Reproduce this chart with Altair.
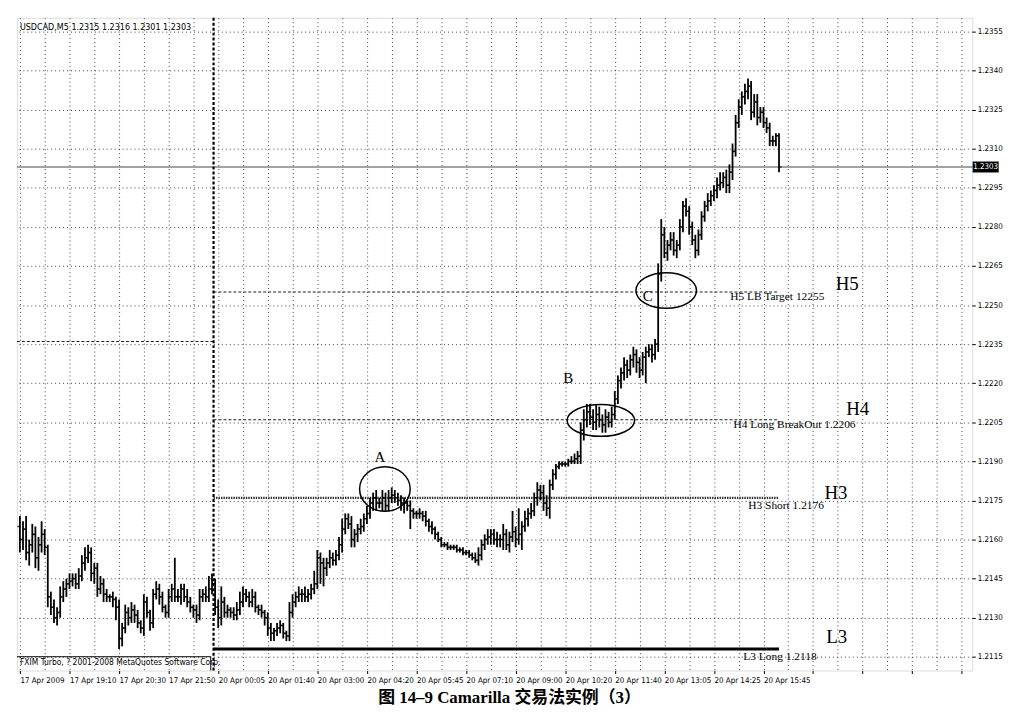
import altair as alt
import pandas as pd

# ---------------- data ----------------
closes = [
    1.2160, 1.2164, 1.2155, 1.2158, 1.2162, 1.2153, 1.2158, 1.2162, 1.2157, 1.2138,
    1.2134, 1.2130, 1.2132, 1.2138, 1.2141, 1.2143, 1.2144, 1.2145, 1.2143, 1.2146,
    1.2151, 1.2153, 1.2155, 1.2147, 1.2149, 1.2141, 1.2143, 1.2139, 1.2138, 1.2138,
    1.2137, 1.2134, 1.2122, 1.2126, 1.2132, 1.2130, 1.2133, 1.2131, 1.2128, 1.2126,
    1.2136, 1.2132, 1.2128, 1.2139, 1.2141, 1.2138, 1.2134, 1.2132, 1.2138, 1.2141,
    1.2138, 1.2138, 1.2141, 1.2138, 1.2136, 1.2134, 1.2133, 1.2131, 1.2138, 1.2139,
    1.2138, 1.2141, 1.2143, 1.2134, 1.2130, 1.2136, 1.2132, 1.2133, 1.2132, 1.2131,
    1.2133, 1.2136, 1.2139, 1.2138, 1.2136, 1.2138, 1.2134, 1.2133, 1.2132, 1.2130,
    1.2126, 1.2124, 1.2125, 1.2126, 1.2127, 1.2124, 1.2123, 1.2132, 1.2136, 1.2138,
    1.2139, 1.2139, 1.2138, 1.2139, 1.2141, 1.2143, 1.2153, 1.2151, 1.2149, 1.2151,
    1.2153, 1.2152, 1.2154, 1.2158, 1.2164, 1.2168, 1.2166, 1.2160, 1.2162, 1.2164,
    1.2165, 1.2168, 1.2170, 1.2174, 1.2176, 1.2174, 1.2174, 1.2176, 1.2173, 1.2176,
    1.2177, 1.2176, 1.2175, 1.2174, 1.2174, 1.2173, 1.2171, 1.2170, 1.2170, 1.2170,
    1.2169, 1.2167, 1.2165, 1.2164, 1.2162, 1.2160, 1.2158, 1.2158, 1.2157, 1.2157,
    1.2157, 1.2156, 1.2156, 1.2155, 1.2155, 1.2154, 1.2153, 1.2152, 1.2154, 1.2158,
    1.2160, 1.2161, 1.2162, 1.2160, 1.2160, 1.2160, 1.2162, 1.2158, 1.2161, 1.2163,
    1.2160, 1.2162, 1.2165, 1.2168, 1.2170, 1.2171, 1.2176, 1.2179, 1.2178, 1.2174,
    1.2172, 1.2181, 1.2185, 1.2188, 1.2189, 1.2189, 1.2189, 1.2190, 1.2190, 1.2191,
    1.2192, 1.2202, 1.2206, 1.2209, 1.2207, 1.2205, 1.2208, 1.2206, 1.2204, 1.2207,
    1.2205, 1.2208, 1.2214, 1.2221, 1.2224, 1.2227, 1.2225, 1.2229, 1.2231, 1.2228,
    1.2225, 1.2230, 1.2232, 1.2233, 1.2231, 1.2235, 1.2262, 1.2277, 1.2270, 1.2273,
    1.2275, 1.2271, 1.2273, 1.2280, 1.2288, 1.2286, 1.2280, 1.2275, 1.2271, 1.2277,
    1.2284, 1.2288, 1.2290, 1.2292, 1.2294, 1.2296, 1.2297, 1.2299, 1.2296, 1.2301,
    1.2309, 1.2320, 1.2326, 1.2330, 1.2332, 1.2334, 1.2324, 1.2328, 1.2322, 1.2324,
    1.2320, 1.2318, 1.2313, 1.2313, 1.2315, 1.2303,
]
first_open = 1.2165

# wicks above max(open, close) and below min(open, close), in pips
up_wick = [
    4, 3, 5, 2, 4, 3, 3, 5, 2, 1,
    2, 3, 2, 4, 3, 2, 3, 2, 2, 3,
    3, 4, 3, 2, 2, 2, 3, 2, 2, 1,
    2, 1, 3, 2, 3, 2, 3, 2, 2, 1,
    3, 2, 1, 2, 3, 2, 2, 1, 3, 2,
    12, 3, 2, 2, 3, 2, 1, 2, 3, 2,
    3, 5, 4, 2, 3, 6, 2, 2, 1, 2,
    3, 4, 3, 2, 2, 3, 2, 1, 2, 1,
    2, 2, 1, 2, 2, 1, 1, 4, 3, 2,
    3, 2, 3, 2, 2, 5, 3, 2, 2, 2,
    3, 2, 2, 3, 4, 2, 2, 3, 2, 2,
    3, 2, 3, 2, 2, 3, 2, 3, 2, 3,
    3, 2, 2, 2, 2, 1, 2, 1, 1, 2,
    1, 2, 1, 2, 1, 1, 1, 1, 1, 1,
    1, 1, 1, 1, 1, 1, 1, 2, 3, 2,
    2, 3, 2, 2, 3, 2, 4, 2, 2, 8,
    2, 10, 2, 3, 2, 3, 2, 3, 2, 3,
    3, 2, 2, 1, 1, 1, 1, 1, 2, 2,
    2, 3, 4, 3, 3, 3, 4, 3, 2, 3,
    2, 3, 3, 2, 2, 3, 2, 2, 3, 2,
    2, 2, 2, 2, 2, 2, 4, 6, 3, 2,
    3, 3, 2, 3, 2, 3, 2, 2, 2, 2,
    2, 2, 3, 2, 2, 3, 4, 2, 3, 3,
    3, 3, 3, 2, 3, 3, 2, 3, 3, 2,
    2, 2, 2, 2, 1, 1,
]
down_wick = [
    5, 4, 3, 5, 3, 4, 5, 3, 3, 4,
    3, 2, 3, 2, 2, 3, 2, 2, 2, 2,
    2, 3, 2, 3, 4, 3, 2, 3, 2, 2,
    3, 5, 4, 3, 2, 3, 2, 3, 2, 2,
    3, 2, 3, 2, 2, 3, 2, 2, 2, 2,
    2, 2, 3, 2, 2, 2, 3, 3, 2, 2,
    2, 2, 2, 3, 4, 3, 2, 2, 2, 2,
    2, 2, 2, 2, 2, 2, 2, 2, 2, 3,
    3, 3, 3, 2, 2, 2, 2, 2, 2, 2,
    2, 3, 2, 2, 2, 2, 2, 8, 7, 3,
    2, 2, 2, 2, 3, 2, 2, 3, 3, 3,
    2, 2, 2, 2, 3, 3, 2, 3, 2, 2,
    2, 2, 2, 3, 4, 2, 7, 2, 2, 2,
    2, 2, 2, 2, 2, 1, 1, 1, 1, 1,
    1, 1, 1, 1, 1, 1, 1, 1, 2, 2,
    2, 2, 3, 2, 3, 3, 4, 2, 3, 2,
    3, 2, 6, 2, 3, 2, 2, 3, 3, 3,
    3, 4, 2, 2, 1, 1, 1, 1, 1, 1,
    2, 3, 4, 3, 3, 3, 3, 3, 3, 3,
    2, 2, 2, 2, 3, 3, 3, 2, 3, 4,
    3, 2, 10, 2, 3, 2, 3, 3, 2, 3,
    2, 2, 3, 2, 2, 2, 3, 2, 3, 2,
    2, 2, 2, 2, 2, 3, 2, 2, 3, 3,
    3, 2, 2, 3, 3, 3, 3, 2, 3, 2,
    2, 2, 2, 2, 2, 2,
]

x_labels = ["17 Apr 2009", "17 Apr 19:10", "17 Apr 20:30", "17 Apr 21:50",
            "20 Apr 00:05", "20 Apr 01:40", "20 Apr 03:00", "20 Apr 04:20",
            "20 Apr 05:45", "20 Apr 07:10", "20 Apr 09:00", "20 Apr 10:20",
            "20 Apr 11:40", "20 Apr 13:05", "20 Apr 14:25", "20 Apr 15:45"]
bars_per_label = 16
y_ticks = [1.2115, 1.2130, 1.2145, 1.2160, 1.2175, 1.2190, 1.2205, 1.2220,
           1.2235, 1.2250, 1.2265, 1.2280, 1.2295, 1.2310, 1.2325, 1.2340, 1.2355]

level_names = ["H5", "H4", "H3", "L3"]
level_values = [1.2255, 1.2206, 1.2176, 1.2118]
level_texts = ["H5 LB Target 12255", "H4 Long BreakOut 1.2206",
               "H3 Short 1.2176", "L3 Long 1.2118"]
prev_day_level = 1.2236
current_price = 1.2303
day_start_bar = 62.5
last_bar = 245

header_text = "USDCAD,M5  1.2315 1.2316 1.2301 1.2303"
footer_text = "FXIM Turbo, ? 2001-2008 MetaQuotes Software Corp."
caption = "图 14–9    Camarilla 交易法实例（3）"

# ---------------- tables ----------------
n = len(closes)
opens = [first_open] + closes[:-1]
highs = [max(o, c) + u / 10000 for o, c, u in zip(opens, closes, up_wick)]
lows = [min(o, c) - d / 10000 for o, c, d in zip(opens, closes, down_wick)]
ohlc = pd.DataFrame({"i": list(range(n)), "open": opens, "high": highs,
                     "low": lows, "close": closes})

X0, X1 = -0.96, 307.4
Y0, Y1 = 1.21097, 1.23603
xs = alt.Scale(domain=[X0, X1], nice=False, zero=False)
ys = alt.Scale(domain=[Y0, Y1], nice=False, zero=False)

NARROW = "Liberation Sans Narrow, DejaVu Sans Condensed, Arial Narrow, sans-serif"
SERIF = "Liberation Serif, DejaVu Serif, serif"

label_arr = "[" + ",".join("'%s'" % s for s in x_labels) + "]"
label_expr = ("(datum.value %% %d == 0 && datum.value / %d < %d) ? %s[datum.value / %d] : ''"
              % (bars_per_label, bars_per_label, len(x_labels), label_arr, bars_per_label))

xaxis = alt.Axis(values=list(range(0, 308, 8)), labelExpr=label_expr, grid=True,
                 gridDash=[1, 3], gridColor="#111", gridOpacity=0.8, gridWidth=1,
                 tickSize=3, tickColor="black",
                 tickOpacity={"condition": {"test": "datum.value % 16 == 0", "value": 1}, "value": 0},
                 labelAlign="left", labelFontSize=8, labelFont=NARROW, labelColor="black",
                 labelPadding=3, labelOverlap=False, labelFlush=False, domain=False, title=None)
yaxis = alt.Axis(orient="right", values=y_ticks, format=".4f", grid=True,
                 gridDash=[1, 3], gridColor="#111", gridOpacity=0.8, gridWidth=1,
                 tickSize=3, tickColor="black", labelFontSize=8, labelFont=NARROW,
                 labelColor="black", labelPadding=2, domain=False, title=None)


def X(f):
    return alt.X(f, type="quantitative", scale=xs, axis=xaxis)


def Y(f):
    return alt.Y(f, type="quantitative", scale=ys, axis=yaxis)


# price bars (OHLC)
hl = alt.Chart(ohlc).mark_rule(color="black", strokeWidth=1.8).encode(
    x=X("i"), y=Y("low"), y2="high")
op = alt.Chart(ohlc).mark_tick(color="black", orient="horizontal", size=2.6,
                               thickness=1.5, xOffset=-1.3).encode(x=X("i"), y=Y("open"))
cl = alt.Chart(ohlc).mark_tick(color="black", orient="horizontal", size=2.6,
                               thickness=1.5, xOffset=1.3).encode(x=X("i"), y=Y("close"))

# horizontal levels
def hline(value, x_from, x_to, **kw):
    d = pd.DataFrame({"xa": [x_from], "xb": [x_to], "price": [value]})
    return alt.Chart(d).mark_rule(**kw).encode(x=X("xa"), x2="xb", y=Y("price"))


lines = [
    hline(current_price, X0, X1, color="#444", strokeWidth=1),
    hline(prev_day_level, X0, day_start_bar, color="#222", strokeWidth=1.1, strokeDash=[3, 2]),
    hline(level_values[0], day_start_bar, last_bar, color="#222", strokeWidth=1.1, strokeDash=[3, 2]),
    hline(level_values[1], day_start_bar, last_bar, color="#222", strokeWidth=1.1, strokeDash=[3, 2]),
    hline(level_values[2], day_start_bar, last_bar, color="#333", strokeWidth=2.4, strokeDash=[1.5, 1]),
    hline(level_values[3], day_start_bar, last_bar, color="black", strokeWidth=3),
    hline(1.2115, X0, 61.6, color="black", strokeWidth=1),
]

sep = alt.Chart(pd.DataFrame({"i": [day_start_bar], "a": [Y0], "b": [Y1]})).mark_rule(
    color="black", strokeWidth=2.2, strokeDash=[3, 2]).encode(x=X("i"), y=Y("a"), y2="b")
box_edge = alt.Chart(pd.DataFrame({"i": [61.6], "a": [Y0], "b": [1.2115]})).mark_rule(
    color="black", strokeWidth=1).encode(x=X("i"), y=Y("a"), y2="b")

# small level labels and big level names
lvl = pd.DataFrame({
    "txt": level_texts,
    "i": [229.3, 230.3, 235.1, 233.5],
    "price": [1.22529, 1.22038, 1.21729, 1.21150],
})
lvl_text = alt.Chart(lvl).mark_text(align="left", baseline="middle", font=SERIF,
                                    fontSize=11.5, color="black").encode(
    x=X("i"), y=Y("price"), text="txt")
names = pd.DataFrame({
    "txt": level_names + ["A", "B", "C"],
    "i": [267.0, 270.4, 263.4, 263.6, 116.2, 177.0, 202.6],
    "price": [1.22582, 1.22102, 1.21779, 1.21226, 1.21916, 1.22220, 1.22533],
    "fs": [19, 19, 19, 19, 15, 15, 15],
})
name_text = alt.Chart(names).mark_text(align="center", baseline="middle", font=SERIF,
                                       color="black").encode(
    x=X("i"), y=Y("price"), text="txt", size=alt.Size("fs:Q", scale=None, legend=None))

# ellipses around A, B, C
def ellipse(ci, cp, rx, ry):
    r = ry / rx
    path = "M-1,0A1,%.3f,0,1,1,1,0A1,%.3f,0,1,1,-1,0Z" % (r, r)
    d = pd.DataFrame({"i": [ci], "price": [cp]})
    return alt.Chart(d).mark_point(shape=path, size=(2 * rx) ** 2, filled=False,
                                   stroke="black", strokeWidth=1.5, opacity=1).encode(
        x=X("i"), y=Y("price"))


ells = [ellipse(117.8, 1.21794, 25.5, 22.5),
        ellipse(187.5, 1.22057, 34, 16),
        ellipse(208.6, 1.22556, 30.5, 18)]

# header / footer texts
hdr = alt.Chart(pd.DataFrame({"i": [0], "price": [1.23569], "t": [header_text]})).mark_text(
    align="left", baseline="middle", font=NARROW, fontSize=9, color="black").encode(
    x=X("i"), y=Y("price"), text="t")
ftr = alt.Chart(pd.DataFrame({"i": [0], "price": [1.21128], "t": [footer_text]})).mark_text(
    align="left", baseline="middle", font=NARROW, fontSize=8.5, color="black").encode(
    x=X("i"), y=Y("price"), text="t")

# current price tag on the axis
tag = pd.DataFrame({"xa": [307.5], "xb": [315.9], "pa": [1.23009], "pb": [1.23051],
                    "xc": [311.7], "pc": [1.2303], "t": ["%.4f" % current_price]})
tag_rect = alt.Chart(tag).mark_rect(color="black").encode(
    x=X("xa"), x2="xb", y=Y("pa"), y2="pb")
tag_text = alt.Chart(tag).mark_text(color="white", font=NARROW, fontSize=8,
                                    baseline="middle").encode(
    x=X("xc"), y=Y("pc"), text="t")

chart = alt.layer(
    *lines, sep, box_edge, hl, op, cl, *ells, lvl_text, name_text, hdr, ftr,
    tag_rect, tag_text
).properties(
    width=963, height=658,
    autosize=alt.AutoSizeParams(type="none"),
    padding={"left": 9, "top": 7, "right": 42, "bottom": 45},
    title=alt.TitleParams(caption, orient="bottom", anchor="middle", fontSize=17,
                          font="Liberation Serif, Noto Sans CJK SC", fontWeight="bold",
                          color="black", offset=6, dx=15),
).configure_view(stroke="black", strokeWidth=1.5).configure(background="white")

chart.save("out.html", embed_options={"renderer": "svg", "actions": False})
